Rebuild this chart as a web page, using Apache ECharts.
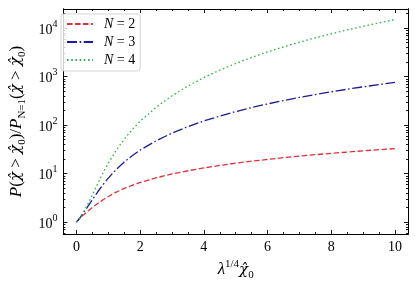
<!DOCTYPE html>
<html><head><meta charset="utf-8">
<script src="https://cdn.jsdelivr.net/npm/echarts@6/dist/echarts.min.js"></script>
<style>html,body{margin:0;padding:0;background:#fff}#c{width:415px;height:286px}</style>
</head><body><div id="c"></div>
<script>
// ---- data ----
const xValues = [0, 0.125, 0.25, 0.375, 0.5, 0.625, 0.75, 0.875, 1, 1.25, 1.5, 1.75, 2, 2.5, 3, 3.5, 4, 4.5, 5, 5.5, 6, 6.5, 7, 7.5, 8, 8.5, 9, 9.5, 10];
const ratioN2 = [1, 1.225, 1.464, 1.723, 2.007, 2.318, 2.653, 3.009, 3.380, 4.154, 4.950, 5.756, 6.568, 8.198, 9.833, 11.47, 13.11, 14.74, 16.38, 18.02, 19.66, 21.29, 22.93, 24.57, 26.21, 27.85, 29.49, 31.12, 32.76];
const ratioN3 = [1, 1.272, 1.661, 2.194, 2.908, 3.834, 4.997, 6.413, 8.087, 12.20, 17.32, 23.43, 30.50, 47.53, 68.37, 93.02, 121.5, 153.7, 189.8, 229.6, 273.2, 320.7, 371.9, 426.9, 485.7, 548.3, 614.7, 684.9, 758.9];
const ratioN4 = [1, 1.281, 1.739, 2.480, 3.650, 5.427, 8.010, 11.60, 16.40, 30.38, 51.37, 80.78, 120.0, 233.4, 402.7, 639.1, 953.7, 1358, 1862, 2478, 3217, 4091, 5109, 6284, 7626, 9147, 10858, 12770, 14895];
const seriesNames = ['N = 2', 'N = 3', 'N = 4'];
const xMajorTicks = [0, 2, 4, 6, 8, 10];
const xMinorTicks = [0.5, 1, 1.5, 2.5, 3, 3.5, 4.5, 5, 5.5, 6.5, 7, 7.5, 8.5, 9, 9.5];
const yMajorTicks = [1, 10, 100, 1000, 10000];
const yMinorTicks = [0.6, 0.7, 0.8, 0.9, 2, 3, 4, 5, 6, 7, 8, 9, 20, 30, 40, 50, 60, 70, 80, 90,
  200, 300, 400, 500, 600, 700, 800, 900, 2000, 3000, 4000, 5000, 6000, 7000, 8000, 9000, 20000];

// ---- styling ----
const F = "'Liberation Serif','DejaVu Serif',serif";
const FG = "'DejaVu Serif','Liberation Serif',serif";
const colors = ['#e0303e', '#1c1c9a', '#2fb24c'];
const dashes = [[5.5, 2.5], [10, 2.6, 1.6, 2.6], [1.6, 2.6]];
const X_MIN = -0.41, X_MAX = 10.41, Y_MIN = 0.57, Y_MAX = 24700;

function xAxisDef(pos, ticks, len, labels) {
  return {
    type: 'value', position: pos, min: X_MIN, max: X_MAX,
    axisLine: { show: true, onZero: false, lineStyle: { color: '#000', width: 1 } },
    axisTick: { show: true, inside: true, length: len, customValues: ticks, lineStyle: { color: '#000', width: 0.9 } },
    axisLabel: labels ? { show: true, customValues: ticks, margin: 6, color: '#000', fontFamily: F, fontSize: 14 } : { show: false },
    splitLine: { show: false }
  };
}
function yAxisDef(pos, ticks, len, labels) {
  return {
    type: 'log', logBase: 10, position: pos, min: Y_MIN, max: Y_MAX,
    axisLine: { show: true, onZero: false, lineStyle: { color: '#000', width: 1 } },
    axisTick: { show: true, inside: true, length: len, customValues: ticks, lineStyle: { color: '#000', width: 0.9 } },
    axisLabel: labels ? {
      show: true, customValues: ticks, margin: 6, color: '#000',
      formatter: v => '{b|10}{s|' + Math.round(Math.log10(v)) + '}',
      rich: {
        b: { fontFamily: F, fontSize: 14, color: '#000', lineHeight: 18, verticalAlign: 'bottom' },
        s: { fontFamily: F, fontSize: 10, color: '#000', lineHeight: 18, verticalAlign: 'top' }
      }
    } : { show: false },
    splitLine: { show: false }
  };
}

const xAxes = [xAxisDef('bottom', xMajorTicks, 4, true), xAxisDef('bottom', xMinorTicks, 2, false),
               xAxisDef('top', xMajorTicks, 4, false), xAxisDef('top', xMinorTicks, 2, false)];
xAxes[0].name = '{i|λ}{sup|1/4}{g|χ̂}{sub|0}';
xAxes[0].nameLocation = 'middle';
xAxes[0].nameGap = 25;
xAxes[0].nameTextStyle = {
  color: '#000',
  rich: {
    i: { fontFamily: F, fontStyle: 'italic', fontSize: 17, lineHeight: 22, color: '#000' },
    g: { fontFamily: FG, fontStyle: 'italic', fontSize: 15, lineHeight: 22, color: '#000' },
    sup: { fontFamily: F, fontSize: 11, lineHeight: 22, verticalAlign: 'top', color: '#000' },
    sub: { fontFamily: F, fontSize: 11, lineHeight: 22, verticalAlign: 'bottom', color: '#000' }
  }
};
const yAxes = [yAxisDef('left', yMajorTicks, 4, true), yAxisDef('left', yMinorTicks, 2, false),
               yAxisDef('right', yMajorTicks, 4, false), yAxisDef('right', yMinorTicks, 2, false)];
yAxes[0].name = '{i|P}{n|(}{g|χ̂}{n| > }{g|χ̂}{sub|0}{n|)/}{i|P}{sub|N=1}{n|(}{g|χ̂}{n| > }{g|χ̂}{sub|0}{n|)}';
yAxes[0].nameLocation = 'middle';
yAxes[0].nameRotate = 90;
yAxes[0].nameGap = 35;
yAxes[0].nameTextStyle = {
  color: '#000',
  rich: {
    i: { fontFamily: F, fontStyle: 'italic', fontSize: 17, lineHeight: 22, color: '#000' },
    g: { fontFamily: FG, fontStyle: 'italic', fontSize: 15, lineHeight: 22, color: '#000' },
    n: { fontFamily: F, fontSize: 17, lineHeight: 22, color: '#000' },
    sub: { fontFamily: F, fontSize: 11, lineHeight: 22, verticalAlign: 'bottom', color: '#000' }
  }
};

const datasets = [ratioN2, ratioN3, ratioN4];
const series = datasets.map((arr, k) => ({
  name: seriesNames[k], type: 'line', xAxisIndex: 0, yAxisIndex: 0,
  data: xValues.map((x, i) => [x, arr[i]]),
  showSymbol: false, symbol: 'none', smooth: false, animation: false,
  lineStyle: { color: colors[k], width: 1.3, type: dashes[k], cap: 'butt' },
  itemStyle: { color: colors[k] }
}));

const chart = echarts.init(document.getElementById('c'), null, { renderer: 'canvas' });
chart.setOption({
  animation: false,
  backgroundColor: '#fff',
  grid: { left: 54, right: 7, top: 9, bottom: 49, containLabel: false },
  xAxis: xAxes,
  yAxis: yAxes,
  legend: {
    orient: 'vertical', left: 61, top: 14,
    padding: [3, 5, 4, 5], itemGap: 4, itemWidth: 26, itemHeight: 14,
    borderColor: '#d4d4d4', borderWidth: 1, borderRadius: 3, backgroundColor: 'rgba(255,255,255,0.8)',
    itemStyle: { opacity: 0 },
    data: seriesNames,
    formatter: n => '{i|N}{t| = ' + n.slice(-1) + '}',
    textStyle: {
      color: '#000', padding: [0, 0, 0, 6],
      rich: {
        i: { fontFamily: F, fontStyle: 'italic', fontSize: 14, color: '#000' },
        t: { fontFamily: F, fontSize: 14, color: '#000' }
      }
    }
  },
  series: series
});
</script></body></html>
